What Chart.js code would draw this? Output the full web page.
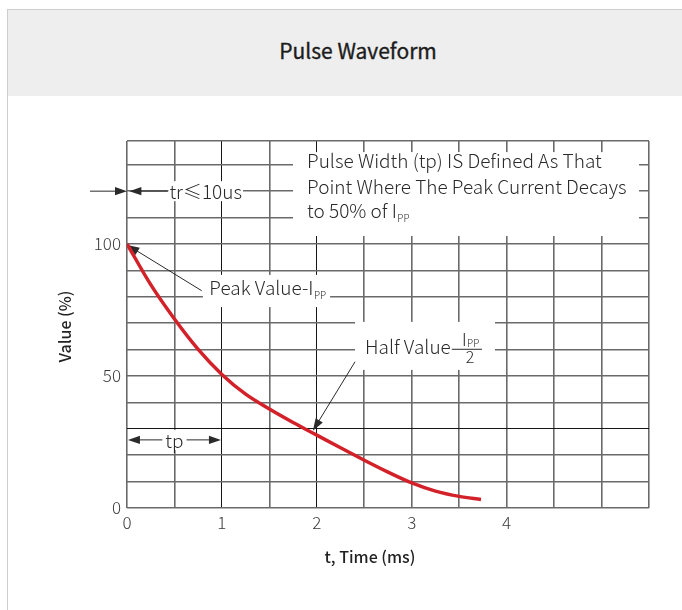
<!DOCTYPE html>
<html>
<head>
<meta charset="utf-8">
<script src="https://cdn.jsdelivr.net/npm/chart.js@4.4.1/dist/chart.umd.min.js"></script>
<style>
html, body { margin: 0; padding: 0; background: #fff; width: 682px; height: 610px; overflow: hidden; }
#panel { position: absolute; left: 7px; top: 9px; width: 700px; height: 640px; border-left: 1px solid #cdcdcd; border-top: 1px solid #cdcdcd; }
#head { height: 86px; background: #eeeeee; text-align: center; color: #1c1c1c;
        font: 400 21px "Noto Sans CJK SC", "Noto Sans", sans-serif; line-height: 80px;
        -webkit-text-stroke: 0.35px #1c1c1c; }
#c { position: absolute; left: 0; top: 0; }
</style>
</head>
<body>
<div id="panel"><div id="head">Pulse Waveform</div></div>
<canvas id="c" width="682" height="610"></canvas>
<script>
// pulse: t in ms, value in % of Ipp
const timeMs = [0, 0.25, 0.5, 0.75, 1, 1.25, 1.5, 1.75, 2, 2.25, 2.5, 2.75, 3, 3.25, 3.5, 3.73];
const valuePct = [100, 84.6, 71.6, 60.1, 50.6, 43.1, 37.5, 32.4, 27.6, 22.8, 18.1, 13.6, 9.5, 6.4, 4.4, 3.2];
const xLabelTicks = [0, 1, 2, 3, 4];
const yLabelTicks = [0, 50, 100];

const FONT = '"Noto Sans CJK SC", "Noto Sans", sans-serif';
const INK = '#2a2a2a';
const NOTE = 19;

function gridColor(darkValues) {
  return function (c) {
    return c.tick && darkValues.includes(c.tick.value) ? '#151515' : '#6a6a6a';
  };
}
function gridWidth(darkValues) {
  return function (c) {
    return c.tick && darkValues.includes(c.tick.value) ? 1 : 1.6;
  };
}

function arrow(ctx, x0, y0, x1, y1) {
  const a = Math.atan2(y1 - y0, x1 - x0);
  const len = 12, half = 4.2;
  ctx.beginPath();
  ctx.moveTo(x0, y0);
  ctx.lineTo(x1 - Math.cos(a) * len * 0.8, y1 - Math.sin(a) * len * 0.8);
  ctx.stroke();
  ctx.beginPath();
  ctx.moveTo(x1, y1);
  ctx.lineTo(x1 - Math.cos(a) * len - Math.sin(a) * half, y1 - Math.sin(a) * len + Math.cos(a) * half);
  ctx.lineTo(x1 - Math.cos(a) * len + Math.sin(a) * half, y1 - Math.sin(a) * len - Math.cos(a) * half);
  ctx.closePath();
  ctx.fill();
}

// text followed by a small "PP" subscript
function withSub(ctx, text, x, y) {
  ctx.font = '300 ' + NOTE + 'px ' + FONT;
  ctx.fillText(text, x, y);
  const w = ctx.measureText(text).width;
  ctx.font = '300 10px ' + FONT;
  ctx.fillText('PP', x + w + 0.5, y + 4);
}

const notes = {
  id: 'notes',
  beforeDatasetsDraw(chart) {
    const ctx = chart.ctx;
    const X = v => chart.scales.x.getPixelForValue(v);
    const Y = v => chart.scales.y.getPixelForValue(v);
    ctx.save();

    // white boxes that cut the grid behind the labels
    ctx.fillStyle = '#fff';
    ctx.fillRect(X(1.749), Y(134.8), X(5.395) - X(1.749), Y(103) - Y(134.8));
    ctx.fillRect(X(0.80), Y(88.3), X(2.14) - X(0.80), Y(76.1) - Y(88.3));
    ctx.fillRect(X(2.403), Y(70.5), X(3.877) - X(2.403), Y(52.3) - Y(70.5));

    ctx.fillStyle = INK;
    ctx.strokeStyle = INK;
    ctx.lineWidth = 1;
    ctx.textBaseline = 'alphabetic';
    ctx.textAlign = 'left';

    // pulse width note
    ctx.font = '300 ' + NOTE + 'px ' + FONT;
    ctx.fillText('Pulse Width (tp) IS Defined As That', X(1.897), Y(128.6));
    ctx.fillText('Point Where The Peak Current Decays', X(1.897), Y(118.8));
    withSub(ctx, 'to 50% of I', X(1.897), Y(110));

    // rise time
    ctx.font = '300 ' + NOTE + 'px ' + FONT;
    ctx.textBaseline = 'middle';
    const trY = Y(120);
    const trTxt = 'tr\u226410us';
    const trW = ctx.measureText(trTxt).width;
    ctx.fillStyle = '#fff';
    ctx.fillRect(X(0.447) - 1, trY - 10, trW + 2, 20);
    ctx.fillStyle = INK;
    ctx.fillText(trTxt, X(0.447), trY + 1);
    arrow(ctx, X(-0.39), trY, X(0), trY);
    arrow(ctx, X(0.43), trY, X(0.025), trY);

    // peak value
    ctx.textBaseline = 'alphabetic';
    withSub(ctx, 'Peak Value-I', X(0.867), Y(80.5));
    arrow(ctx, X(0.787), Y(82.3), X(0.004), Y(99.6));

    // half value
    ctx.font = '300 ' + NOTE + 'px ' + FONT;
    const hx = X(2.508), hy = Y(58.4);
    ctx.fillText('Half Value', hx, hy);
    const hEnd = hx + ctx.measureText('Half Value').width;
    const barY = Y(60.3);
    ctx.beginPath();
    ctx.moveTo(hEnd + 1, barY + 0.5);
    ctx.lineTo(X(3.74), barY + 0.5);
    ctx.stroke();
    ctx.font = '300 17px ' + FONT;
    const iW = ctx.measureText('I').width;
    const fracMid = (X(3.487) + X(3.74)) / 2;
    ctx.fillText('I', fracMid - 8, barY - 3);
    ctx.font = '300 10px ' + FONT;
    ctx.fillText('PP', fracMid - 8 + iW + 0.5, barY - 2);
    ctx.font = '300 16px ' + FONT;
    ctx.textAlign = 'center';
    ctx.fillText('2', fracMid, barY + 14);
    arrow(ctx, X(2.403), Y(55.4), X(1.959), Y(29.3));

    // tp
    ctx.font = '300 ' + NOTE + 'px ' + FONT;
    ctx.textBaseline = 'middle';
    const tpY = Y(25.8);
    const tpW = ctx.measureText('tp').width;
    ctx.fillStyle = '#fff';
    ctx.fillRect(X(0.5) - tpW / 2 - 3, tpY - 10, tpW + 6, 20);
    ctx.fillStyle = INK;
    ctx.fillText('tp', X(0.5), tpY + 1);
    arrow(ctx, X(0.5) - tpW / 2 - 3, tpY, X(0.01), tpY);
    arrow(ctx, X(0.5) + tpW / 2 + 3, tpY, X(0.99), tpY);

    ctx.restore();
  },
  afterDraw(chart) {
    const ctx = chart.ctx;
    const a = chart.chartArea;
    ctx.save();
    ctx.fillStyle = '#222';
    ctx.font = '500 16px ' + FONT;
    ctx.textAlign = 'center';
    ctx.textBaseline = 'middle';
    ctx.fillText('t, Time (ms)', 370, a.bottom + 49);
    ctx.translate(65, (a.top + a.bottom) / 2 + 2);
    ctx.rotate(-Math.PI / 2);
    ctx.fillText('Value (%)', 0, 0);
    ctx.restore();
  }
};

new Chart(document.getElementById('c'), {
  type: 'line',
  data: {
    datasets: [{
      data: timeMs.map((t, i) => ({ x: t, y: valuePct[i] })),
      borderColor: '#d3212a',
      borderWidth: 3.5,
      borderCapStyle: 'butt',
      pointRadius: 0,
      cubicInterpolationMode: 'monotone',
      fill: false
    }]
  },
  options: {
    responsive: false,
    animation: false,
    layout: { padding: { left: 87, top: 141, right: 33, bottom: 72 } },
    plugins: { legend: { display: false }, tooltip: { enabled: false } },
    scales: {
      x: {
        type: 'linear',
        min: 0,
        max: 5.5,
        border: { display: false },
        grid: { color: gridColor([1, 2]), lineWidth: gridWidth([1, 2]), drawTicks: false },
        ticks: {
          stepSize: 0.5,
          autoSkip: false,
          maxRotation: 0,
          padding: 4,
          color: '#3a3a3a',
          font: { family: FONT, size: 17, weight: '300' },
          callback: v => xLabelTicks.includes(v) ? String(v) : ''
        },
        afterFit: s => { s.height = 30; }
      },
      y: {
        min: 0,
        max: 139,
        border: { display: false },
        grid: { color: gridColor([30]), lineWidth: gridWidth([30]), drawTicks: false },
        ticks: {
          autoSkip: false,
          padding: 6,
          color: '#3a3a3a',
          font: { family: FONT, size: 17, weight: '300' },
          callback: v => yLabelTicks.includes(v) ? String(v) : ''
        },
        afterBuildTicks: s => {
          const t = [];
          for (let v = 0; v < s.max; v += 10) t.push({ value: v });
          t.push({ value: s.max });
          s.ticks = t;
        },
        afterFit: s => { s.width = 40; }
      }
    }
  },
  plugins: [notes]
});
</script>
</body>
</html>
